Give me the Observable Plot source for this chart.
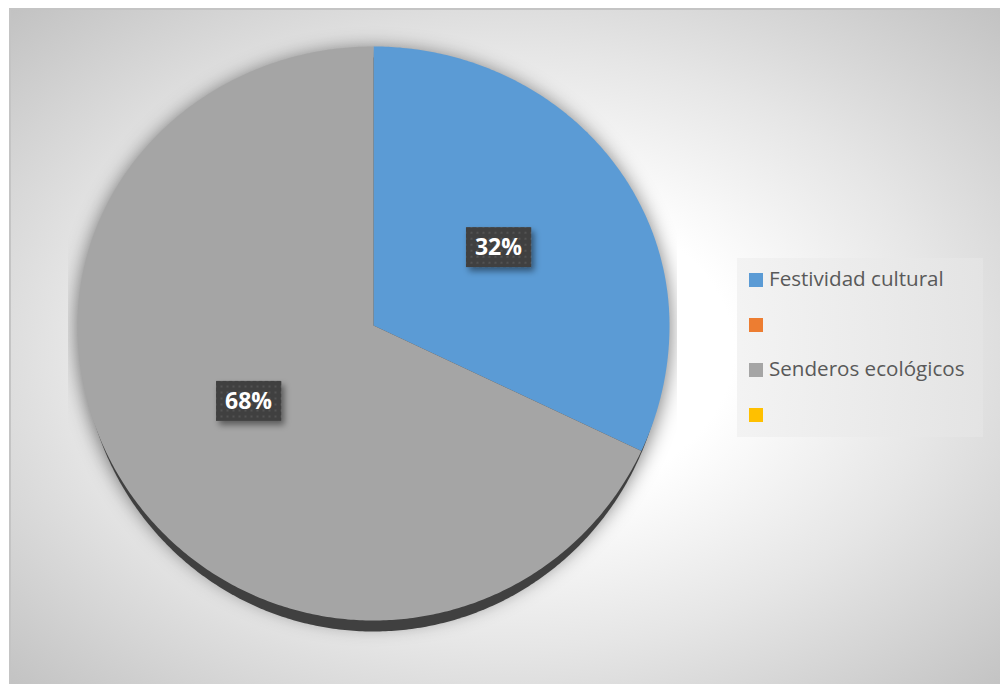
<!DOCTYPE html>
<html>
<head>
<meta charset="utf-8">
<script src="https://cdn.jsdelivr.net/npm/d3@7"></script>
<script src="https://cdn.jsdelivr.net/npm/@observablehq/plot@0.6"></script>
<style>
  html, body { margin: 0; padding: 0; background: #ffffff; }
  #wrap { position: relative; width: 1000px; height: 684px; overflow: hidden; }
  #bg { position: absolute; left: 9px; top: 8px; width: 995px; height: 680px;
        border-top: 2px solid #c4c4c4; border-left: 2px solid #c4c4c4;
        background: radial-gradient(ellipse farthest-corner at 50% 50%, #ffffff 32%, #e6e6e6 62%, #c2c2c2 100%); }
  #chart { position: absolute; left: 0; top: 0; }
  #legend { position: absolute; left: 737px; top: 258px; width: 246px; height: 179px;
            background: linear-gradient(to right, rgba(242,242,242,0.9), rgba(228,228,228,0.9));
            font-family: "Open Sans", sans-serif; font-size: 20.6px; color: #595959; }
  .item { position: absolute; left: 12px; height: 24px; line-height: 24px; white-space: nowrap; }
  .sw { position: absolute; left: 0; top: 5px; width: 14px; height: 14px; }
  .lab { position: absolute; left: 20px; top: -2px; }
</style>
</head>
<body>
<div id="wrap">
  <div id="bg"></div>
  <div id="chart"></div>
  <div id="legend"></div>
</div>
<script>
const categories = ["Festividad cultural", "", "Senderos ecológicos", ""];
const values = [32, 0, 68, 0];
const colors = ["#5b9bd5", "#ed7d31", "#a5a5a5", "#ffc000"];

const total = d3.sum(values);
const arcs = d3.pie().sort(null).value(d => d)(values);

// slight perspective: the near (lower) half of the tilted pie is a bit taller
const near = 295 / 279;
const py = t => Math.cos(t) < 0 ? Math.cos(t) * near : Math.cos(t);

// slice polygons computed from the data angles
const slicePts = [];
arcs.forEach((a, i) => {
  if (a.endAngle - a.startAngle <= 0) return;
  slicePts.push({i, x: 0, y: 0});
  const n = Math.max(2, Math.ceil((a.endAngle - a.startAngle) / 0.01));
  for (let k = 0; k <= n; k++) {
    const t = a.startAngle + (a.endAngle - a.startAngle) * k / n;
    slicePts.push({i, x: Math.sin(t), y: py(t)});
  }
  slicePts.push({i, x: 0, y: 0});
});
const outline = d3.range(0, 629).map(k => ({x: Math.sin(k / 100), y: py(k / 100)}));
const sideOutline = outline.map(p => ({x: p.x * 0.985, y: p.y}));

const labels = arcs.filter(a => a.value > 0).map(a => {
  const m = (a.startAngle + a.endAngle) / 2;
  return {x: 0.5 * Math.sin(m), y: 0.5 * py(m), t: Math.round(a.value / total * 100) + "%"};
});

const plot = Plot.plot({
  width: 1000, height: 684, margin: 0,
  style: {background: "transparent", overflow: "visible"},
  x: {domain: [-1, 1], range: [77, 669], axis: null},
  y: {domain: [-near, 1], range: [620, 46], axis: null},
  color: {type: "ordinal", domain: [0, 1, 2, 3], range: colors},
  marks: [
    Plot.line(outline, {x: "x", y: "y", fill: "#000", fillOpacity: 0.55, stroke: "none", dy: 3}),
    Plot.line(sideOutline, {x: "x", y: "y", fill: "#404040", stroke: "none", dy: 11}),
    Plot.line(slicePts, {x: "x", y: "y", z: "i", fill: "i", stroke: "none"}),
    Plot.text(labels, {x: "x", y: "y", text: "t", fill: "white", fontSize: 23, fontWeight: "bold",
      fontFamily: "'Open Sans', sans-serif", dy: -3})
  ]
});
document.getElementById("chart").appendChild(plot);

const svg = d3.select(plot);
const groups = svg.selectAll(":scope > g").nodes();
const [gShadow, gSide, gSlices, gText] = groups;

const defs = svg.insert("defs", ":first-child");
const f1 = defs.append("filter").attr("id", "blurShadow")
  .attr("filterUnits", "userSpaceOnUse").attr("x", 0).attr("y", 0).attr("width", 1000).attr("height", 684);
f1.append("feGaussianBlur").attr("stdDeviation", 10);
defs.append("clipPath").attr("id", "plotClip").append("rect")
  .attr("x", 68).attr("y", 14).attr("width", 609).attr("height", 634);
const f2 = defs.append("filter").attr("id", "boxShadow").attr("x", "-30%").attr("y", "-30%").attr("width", "170%").attr("height", "170%");
f2.append("feDropShadow").attr("dx", 3).attr("dy", 4).attr("stdDeviation", 3)
  .attr("flood-color", "#000").attr("flood-opacity", 0.45);
const pat = defs.append("pattern").attr("id", "dots").attr("patternUnits", "userSpaceOnUse")
  .attr("width", 6).attr("height", 6);
pat.append("rect").attr("width", 6).attr("height", 6).attr("fill", "#404040");
pat.append("rect").attr("x", 2).attr("y", 2).attr("width", 2).attr("height", 2).attr("fill", "#535353");

if (gShadow) {
  const wrapG = document.createElementNS("http://www.w3.org/2000/svg", "g");
  gShadow.parentNode.insertBefore(wrapG, gShadow);
  wrapG.appendChild(gShadow);
  wrapG.setAttribute("clip-path", "url(#plotClip)");
  gShadow.setAttribute("filter", "url(#blurShadow)");
}

if (gText) {
  d3.select(gText).selectAll("text").each(function () {
    const b = this.getBBox();
    const cx = b.x + b.width / 2, cy = b.y + b.height / 2;
    const w = b.width + 18, h = 40;
    const r = d3.select(this.parentNode).insert("rect", () => this)
      .attr("x", cx - w / 2).attr("y", cy - h / 2 + 1).attr("width", w).attr("height", h)
      .attr("fill", "url(#dots)").attr("stroke", "none").attr("filter", "url(#boxShadow)");
    const tr = this.getAttribute("transform");
    if (tr) r.attr("transform", tr);
  });
}

// legend
const legend = d3.select("#legend");
categories.forEach((c, i) => {
  const it = legend.append("div").attr("class", "item").style("top", (10 + i * 45) + "px");
  it.append("div").attr("class", "sw").style("background", colors[i]);
  it.append("div").attr("class", "lab").text(c);
});
</script>
</body>
</html>
